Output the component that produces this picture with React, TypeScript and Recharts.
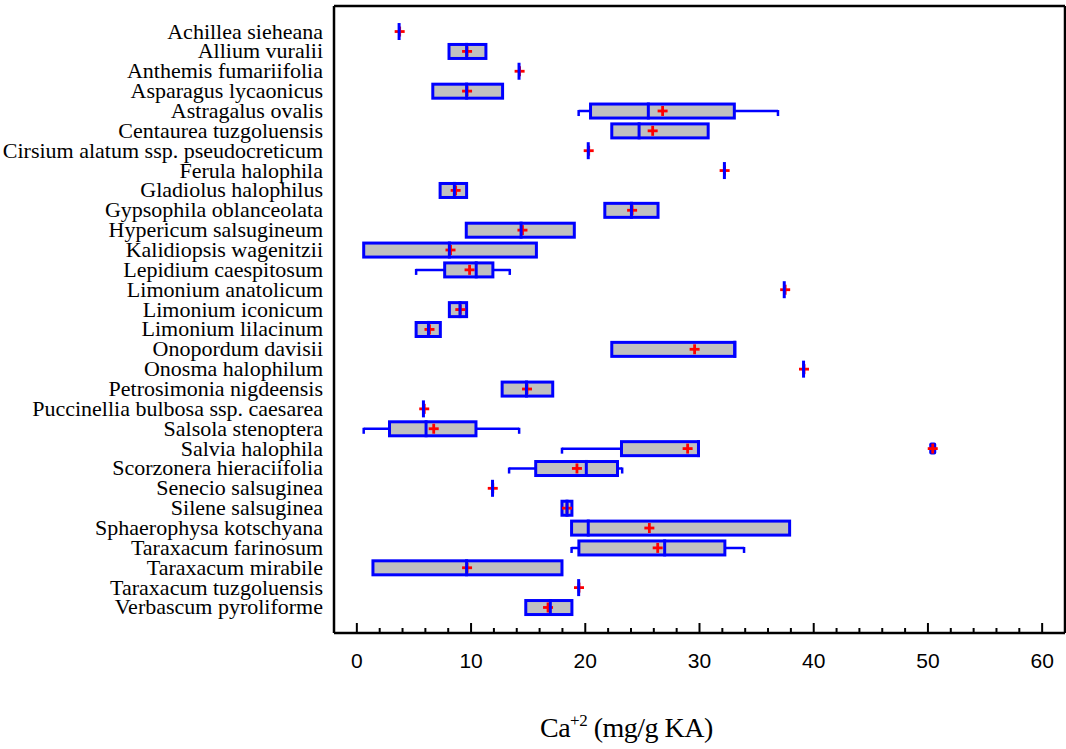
import {
  ComposedChart,
  Bar,
  Scatter,
  XAxis,
  YAxis,
  Label,
} from "recharts";

const species = [
  "Achillea sieheana",
  "Allium vuralii",
  "Anthemis fumariifolia",
  "Asparagus lycaonicus",
  "Astragalus ovalis",
  "Centaurea tuzgoluensis",
  "Cirsium alatum ssp. pseudocreticum",
  "Ferula halophila",
  "Gladiolus halophilus",
  "Gypsophila oblanceolata",
  "Hypericum salsugineum",
  "Kalidiopsis wagenitzii",
  "Lepidium caespitosum",
  "Limonium anatolicum",
  "Limonium iconicum",
  "Limonium lilacinum",
  "Onopordum davisii",
  "Onosma halophilum",
  "Petrosimonia nigdeensis",
  "Puccinellia bulbosa ssp. caesarea",
  "Salsola stenoptera",
  "Salvia halophila",
  "Scorzonera hieraciifolia",
  "Senecio salsuginea",
  "Silene salsuginea",
  "Sphaerophysa kotschyana",
  "Taraxacum farinosum",
  "Taraxacum mirabile",
  "Taraxacum tuzgoluensis",
  "Verbascum pyroliforme",
];

// five-number summaries per species, Ca+2 in mg/g
const minValues = [
  3.7, 8.07, 14.2, 6.65, 19.42, 22.32, 20.26, 32.18, 7.29, 21.71,
  9.58, 0.6, 5.19, 37.42, 8.1, 5.19, 22.32, 39.11, 12.72, 5.83,
  0.6, 17.96, 13.33, 11.88, 17.96, 18.8, 18.8, 1.41, 19.42, 14.79,
];
const q1Values = [
  3.7, 8.07, 14.2, 6.65, 20.46, 22.32, 20.26, 32.18, 7.29, 21.71,
  9.58, 0.6, 7.69, 37.42, 8.1, 5.19, 22.32, 39.11, 12.72, 5.83,
  2.86, 23.17, 15.66, 11.88, 17.96, 18.8, 19.44, 1.41, 19.42, 14.79,
];
const medianValues = [
  3.7, 9.61, 14.2, 9.61, 25.52, 24.71, 20.26, 32.18, 8.54, 24.04,
  14.38, 8.1, 10.45, 37.42, 9.03, 6.27, 33.09, 39.11, 14.85, 5.83,
  6.06, 29.91, 20.09, 11.88, 18.4, 20.26, 26.95, 9.61, 19.42, 16.94,
];
const q3Values = [
  3.7, 11.3, 14.2, 12.76, 33.05, 30.76, 20.26, 32.18, 9.61, 26.37,
  19.04, 15.72, 11.91, 37.42, 9.61, 7.31, 33.09, 39.11, 17.15, 5.83,
  10.43, 29.91, 22.82, 11.88, 18.83, 37.89, 32.22, 17.96, 19.42, 18.83,
];
const maxValues = [
  3.7, 11.3, 14.2, 12.76, 36.87, 30.76, 20.26, 32.18, 9.61, 26.37,
  19.04, 15.72, 13.39, 37.42, 9.61, 7.31, 33.09, 39.11, 17.15, 5.83,
  14.21, 29.91, 23.23, 11.88, 18.83, 37.89, 33.9, 17.96, 19.42, 18.83,
];
const meanValues = [
  3.75, 9.65, 14.25, 9.65, 26.77, 25.9, 20.3, 32.2, 8.65, 24.1,
  14.5, 8.2, 9.87, 37.5, 9.06, 6.36, 29.57, 39.15, 14.9, 5.9,
  6.73, 28.96, 19.27, 11.9, 18.4, 25.61, 26.34, 9.65, 19.45, 16.74,
];
const outliers = [{ species: "Salvia halophila", value: 50.42 }];

const xTicks = [
  0, 2, 4, 6, 8, 10, 12, 14, 16, 18, 20, 22, 24, 26, 28, 30,
  32, 34, 36, 38, 40, 42, 44, 46, 48, 50, 52, 54, 56, 58, 60,
];

const rows = species.map((name, i) => {
  const out = outliers.find((o) => o.species === name);
  return {
    species: name,
    min: minValues[i],
    q1: q1Values[i],
    median: medianValues[i],
    q3: q3Values[i],
    max: maxValues[i],
    mean: meanValues[i],
    outlier: out ? out.value : null,
  };
});

const BLUE = "#0000ff";
const RED = "#ff0000";
const BOX_FILL = "#c0c0c0";
const BAR_SIZE = 14;
const SERIF = "'Liberation Serif', 'Times New Roman', serif";
const SANS = "'Liberation Sans', Arial, sans-serif";

function Whisker(props: any) {
  const { x, y, width, height, payload } = props;
  if (!payload || payload.max <= payload.min) return null;
  const cy = y + height / 2;
  const x2 = x + width;
  return (
    <g stroke={BLUE} strokeWidth={2.5}>
      <line x1={x} x2={x2} y1={cy} y2={cy} />
      {payload.min < payload.q1 && <line x1={x} x2={x} y1={cy - 1} y2={cy + 5} />}
      {payload.max > payload.q3 && <line x1={x2} x2={x2} y1={cy - 1} y2={cy + 5} />}
    </g>
  );
}

function Box(props: any) {
  const { x, y, width, height } = props;
  if (!(width > 0.5)) return null;
  return (
    <rect
      x={x}
      y={y}
      width={width}
      height={height}
      fill={BOX_FILL}
      stroke={BLUE}
      strokeWidth={3}
    />
  );
}

function MedianMark(props: any) {
  const { cx, cy } = props;
  if (cx == null || cy == null) return null;
  return <line x1={cx} x2={cx} y1={cy - 8.5} y2={cy + 8.5} stroke={BLUE} strokeWidth={3} />;
}

function MeanMark(props: any) {
  const { cx, cy } = props;
  if (cx == null || cy == null) return null;
  return (
    <g stroke={RED} strokeWidth={2.8}>
      <line x1={cx - 5} x2={cx + 5} y1={cy} y2={cy} />
      <line x1={cx} x2={cx} y1={cy - 5} y2={cy + 5} />
    </g>
  );
}

function OutlierMark(props: any) {
  const { cx, cy, payload } = props;
  if (!payload || payload.outlier == null || cx == null) return null;
  return (
    <g>
      <rect x={cx - 3.5} y={cy - 6} width={7} height={12} rx={2} fill={BLUE} />
      <g stroke={RED} strokeWidth={2.8}>
        <line x1={cx - 5} x2={cx + 5} y1={cy} y2={cy} />
        <line x1={cx} x2={cx} y1={cy - 5} y2={cy + 5} />
      </g>
    </g>
  );
}

function BottomTick(props: any) {
  const { x, y, payload } = props;
  const major = payload.value % 10 === 0;
  return (
    <g>
      <line x1={x} x2={x} y1={y} y2={y - (major ? 10 : 5)} stroke="#000" strokeWidth={2} />
      {major && (
        <text x={x} y={y + 35} textAnchor="middle" fontSize={21} fontFamily={SANS} fill="#000">
          {payload.value}
        </text>
      )}
    </g>
  );
}

function TopTick(props: any) {
  const { x, y, payload } = props;
  const major = payload.value % 10 === 0;
  return <line x1={x} x2={x} y1={y} y2={y + (major ? 10 : 5)} stroke="#000" strokeWidth={2} />;
}

function SpeciesTick(props: any) {
  const { x, y, payload } = props;
  return (
    <text x={x - 11} y={y} dy={7} textAnchor="end" fontSize={22} fontFamily={SERIF} fill="#000">
      {payload.value}
    </text>
  );
}

function AxisTitle(props: any) {
  const vb = props.viewBox || { x: 334, y: 633, width: 731, height: 110 };
  return (
    <text
      x={vb.x + vb.width * 0.4}
      y={vb.y + 104}
      textAnchor="middle"
      fontSize={28}
      fontFamily={SERIF}
      letterSpacing={-0.5}
      fill="#000"
    >
      Ca
      <tspan dy={-11} fontSize={17}>+2</tspan>
      <tspan dy={11}>{" (mg/g KA)"}</tspan>
    </text>
  );
}

export default function App() {
  return (
    <div style={{ position: "absolute", left: 0, top: 0, background: "#fff" }}>
      <ComposedChart
        width={1066}
        height={749}
        layout="vertical"
        data={rows}
        margin={{ top: 5, right: 0, bottom: 6, left: 0 }}
        barGap={-BAR_SIZE}
      >
        <XAxis
          type="number"
          domain={[-2, 62]}
          ticks={xTicks}
          interval={0}
          height={110}
          tickSize={0}
          tickMargin={0}
          tickLine={false}
          tick={<BottomTick />}
          axisLine={{ stroke: "#000", strokeWidth: 2.5 }}
        >
          <Label content={<AxisTitle />} />
        </XAxis>
        <XAxis
          xAxisId="top"
          orientation="top"
          type="number"
          domain={[-2, 62]}
          ticks={xTicks}
          interval={0}
          height={1}
          tickSize={0}
          tickMargin={0}
          tickLine={false}
          tick={<TopTick />}
          axisLine={{ stroke: "#000", strokeWidth: 2.5 }}
        />
        <YAxis
          type="category"
          dataKey="species"
          width={334}
          interval={0}
          padding={{ top: 15.6, bottom: 15.6 }}
          tickSize={0}
          tickMargin={0}
          tickLine={false}
          tick={<SpeciesTick />}
          axisLine={{ stroke: "#000", strokeWidth: 2.5 }}
        />
        <YAxis
          yAxisId="r"
          orientation="right"
          type="category"
          dataKey="species"
          width={1}
          tick={false}
          tickLine={false}
          axisLine={{ stroke: "#000", strokeWidth: 2.5 }}
        />
        <Bar
          dataKey={(d: any) => [d.min, d.max]}
          barSize={BAR_SIZE}
          shape={<Whisker />}
          isAnimationActive={false}
        />
        <Bar
          dataKey={(d: any) => [d.q1, d.q3]}
          barSize={BAR_SIZE}
          shape={<Box />}
          isAnimationActive={false}
        />
        <Scatter dataKey="mean" shape={<MeanMark />} isAnimationActive={false} />
        <Scatter dataKey="median" shape={<MedianMark />} isAnimationActive={false} />
        <Scatter dataKey="outlier" shape={<OutlierMark />} isAnimationActive={false} />
      </ComposedChart>
    </div>
  );
}
